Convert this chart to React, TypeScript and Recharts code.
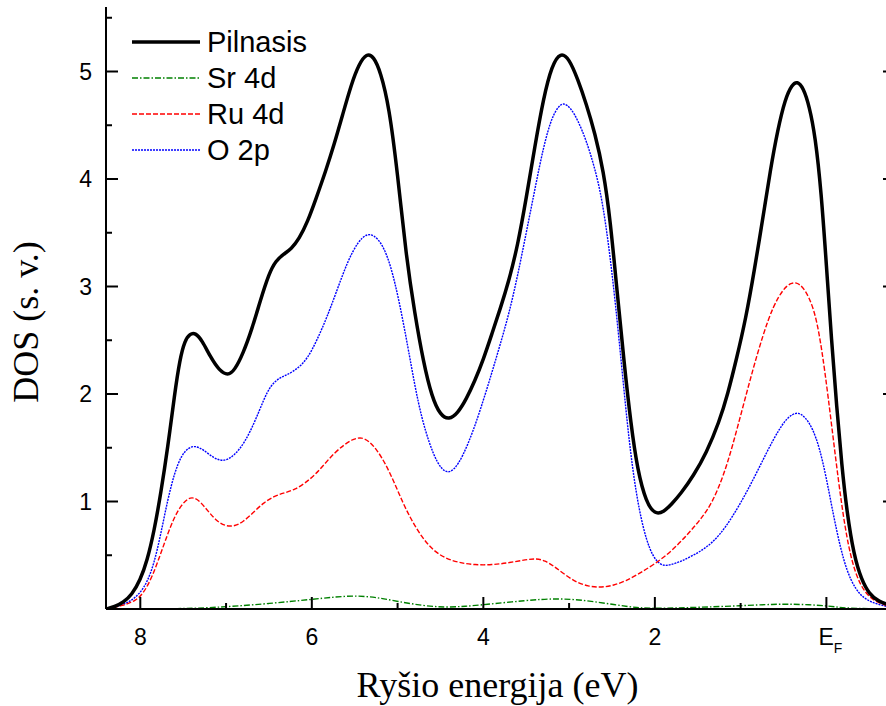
import React from 'react';
import { LineChart, Line, XAxis, YAxis, Legend } from 'recharts';

// Energies (eV, binding energy; 0 = E_F) and DOS values
const totalE = [8.4, 8.3, 8.2, 8.1, 8.0, 7.92, 7.84, 7.76, 7.68, 7.6, 7.54, 7.48, 7.42, 7.36, 7.28, 7.18, 7.08, 6.98, 6.9, 6.8, 6.7, 6.6, 6.5, 6.42, 6.33, 6.24, 6.15, 6.05, 5.95, 5.84, 5.74, 5.64, 5.54, 5.45, 5.36, 5.28, 5.2, 5.1, 5.0, 4.9, 4.8, 4.7, 4.6, 4.5, 4.4, 4.3, 4.2, 4.1, 4.0, 3.9, 3.8, 3.7, 3.6, 3.5, 3.4, 3.3, 3.2, 3.1, 3.0, 2.9, 2.8, 2.7, 2.6, 2.52, 2.44, 2.36, 2.28, 2.2, 2.1, 2.0, 1.9, 1.8, 1.7, 1.55, 1.4, 1.25, 1.15, 1.05, 0.94, 0.84, 0.74, 0.65, 0.57, 0.48, 0.4, 0.34, 0.27, 0.2, 0.13, 0.06, 0.0, -0.06, -0.12, -0.18, -0.24, -0.32, -0.41, -0.5, -0.6, -0.8];
const totalDos = [0.0, 0.02, 0.06, 0.13, 0.27, 0.45, 0.72, 1.08, 1.5, 2.0, 2.32, 2.5, 2.56, 2.57, 2.5, 2.34, 2.22, 2.17, 2.22, 2.38, 2.6, 2.87, 3.12, 3.24, 3.3, 3.35, 3.44, 3.6, 3.82, 4.07, 4.32, 4.6, 4.88, 5.07, 5.17, 5.14, 5.0, 4.68, 4.05, 3.28, 2.75, 2.3, 1.97, 1.8, 1.76, 1.82, 1.95, 2.12, 2.32, 2.56, 2.8, 3.06, 3.38, 3.82, 4.3, 4.75, 5.06, 5.18, 5.12, 4.93, 4.7, 4.43, 4.08, 3.62, 2.95, 2.3, 1.72, 1.28, 0.99, 0.88, 0.9, 0.98, 1.07, 1.24, 1.45, 1.74, 2.0, 2.32, 2.7, 3.15, 3.64, 4.1, 4.45, 4.75, 4.88, 4.91, 4.85, 4.68, 4.4, 3.88, 3.2, 2.5, 1.88, 1.33, 0.9, 0.5, 0.27, 0.14, 0.07, 0.02];

const srE = [8.4, 7.5, 7.0, 6.5, 6.0, 5.75, 5.5, 5.25, 5.0, 4.7, 4.45, 4.2, 4.0, 3.5, 3.14, 2.8, 2.47, 2.2, 2.0, 1.5, 1.0, 0.6, 0.42, 0.2, 0.0, -0.15, -0.3, -0.8];
const srDos = [0.0, 0.0, 0.02, 0.05, 0.09, 0.11, 0.125, 0.11, 0.07, 0.03, 0.015, 0.025, 0.04, 0.08, 0.1, 0.08, 0.04, 0.01, 0.005, 0.015, 0.03, 0.045, 0.045, 0.04, 0.03, 0.015, 0.005, 0.0];

const ruE = [8.4, 8.2, 8.05, 7.96, 7.86, 7.76, 7.68, 7.6, 7.52, 7.44, 7.38, 7.3, 7.2, 7.1, 7.0, 6.9, 6.8, 6.68, 6.56, 6.44, 6.32, 6.2, 6.08, 5.96, 5.85, 5.74, 5.62, 5.52, 5.42, 5.33, 5.24, 5.14, 5.04, 4.94, 4.84, 4.72, 4.58, 4.44, 4.28, 4.1, 3.9, 3.7, 3.5, 3.38, 3.28, 3.18, 3.05, 2.92, 2.78, 2.62, 2.48, 2.34, 2.18, 2.0, 1.8, 1.6, 1.45, 1.33, 1.2, 1.1, 0.98, 0.86, 0.74, 0.62, 0.5, 0.42, 0.35, 0.28, 0.2, 0.12, 0.05, -0.02, -0.1, -0.18, -0.26, -0.35, -0.45, -0.58, -0.8];
const ruDos = [0.0, 0.03, 0.08, 0.15, 0.3, 0.52, 0.7, 0.86, 0.97, 1.03, 1.04, 1.0, 0.9, 0.81, 0.77, 0.77, 0.81, 0.9, 0.99, 1.05, 1.08, 1.11, 1.17, 1.25, 1.35, 1.45, 1.53, 1.58, 1.6, 1.56, 1.48, 1.35, 1.18, 0.99, 0.83, 0.67, 0.54, 0.47, 0.43, 0.41, 0.41, 0.43, 0.46, 0.47, 0.45, 0.4, 0.32, 0.25, 0.21, 0.2, 0.22, 0.26, 0.33, 0.42, 0.54, 0.71, 0.85, 0.99, 1.24, 1.5, 1.86, 2.22, 2.55, 2.82, 2.98, 3.03, 3.04, 3.0, 2.9, 2.72, 2.4, 1.98, 1.45, 0.95, 0.56, 0.3, 0.15, 0.06, 0.01];

const oE = [8.4, 8.2, 8.1, 8.0, 7.92, 7.84, 7.76, 7.68, 7.6, 7.52, 7.44, 7.36, 7.26, 7.14, 7.02, 6.9, 6.78, 6.66, 6.56, 6.48, 6.38, 6.28, 6.16, 6.05, 5.94, 5.82, 5.7, 5.58, 5.46, 5.36, 5.28, 5.18, 5.08, 4.98, 4.88, 4.8, 4.72, 4.63, 4.54, 4.44, 4.34, 4.24, 4.12, 4.0, 3.9, 3.8, 3.7, 3.6, 3.5, 3.4, 3.3, 3.2, 3.12, 3.06, 2.98, 2.9, 2.8, 2.7, 2.62, 2.54, 2.46, 2.38, 2.3, 2.22, 2.14, 2.06, 1.98, 1.9, 1.82, 1.7, 1.55, 1.4, 1.25, 1.1, 0.94, 0.78, 0.62, 0.48, 0.4, 0.33, 0.25, 0.16, 0.08, 0.0, -0.08, -0.16, -0.24, -0.34, -0.45, -0.6, -0.8];
const oDos = [0.0, 0.04, 0.08, 0.15, 0.25, 0.42, 0.7, 1.02, 1.27, 1.43, 1.5, 1.52, 1.48, 1.4, 1.37, 1.43, 1.55, 1.75, 1.95, 2.08, 2.15, 2.18, 2.24, 2.33, 2.5, 2.72, 2.98, 3.24, 3.42, 3.49, 3.48, 3.4, 3.2, 2.86, 2.44, 2.08, 1.78, 1.54, 1.36, 1.26, 1.29, 1.42, 1.65, 1.94, 2.2, 2.47, 2.75, 3.1, 3.5, 3.9, 4.3, 4.58, 4.68, 4.71, 4.66, 4.55, 4.36, 4.1, 3.83, 3.4, 2.85, 2.2, 1.55, 1.08, 0.76, 0.55, 0.44, 0.4, 0.41, 0.44, 0.5, 0.57, 0.68, 0.85, 1.07, 1.32, 1.58, 1.76, 1.81, 1.83, 1.79, 1.68, 1.5, 1.22, 0.88, 0.58, 0.35, 0.18, 0.09, 0.04, 0.01];

const xTicks = [8, 7, 6, 5, 4, 3, 2, 1, 0];
const yTicks = [0.5, 1, 1.5, 2, 2.5, 3, 3.5, 4, 4.5, 5, 5.5];
const xDomain = [-0.8, 8.4];
const yDomain = [0, 5.6];

const toPoints = (xs: number[], ys: number[]) => xs.map((x, i) => ({ x, y: ys[i] }));

const series = [
  { name: 'Pilnasis', data: toPoints(totalE, totalDos), color: '#000000', width: 3.5, dash: undefined as string | undefined },
  { name: 'Sr 4d', data: toPoints(srE, srDos), color: '#008000', width: 1.4, dash: '6 2 1.5 2' },
  { name: 'Ru 4d', data: toPoints(ruE, ruDos), color: '#ff0000', width: 1.4, dash: '5 2' },
  { name: 'O 2p', data: toPoints(oE, oDos), color: '#0000ff', width: 1.4, dash: '2 1' },
];

const SANS = '"Liberation Sans", Arial, sans-serif';
const SERIF = '"Liberation Serif", "Times New Roman", serif';
const MAJOR = 12;
const MINOR = 6;

const BottomTick = (props: any) => {
  const { x, y, payload } = props;
  const v = payload.value;
  const major = v % 2 === 0;
  return (
    <g>
      <line x1={x} x2={x} y1={y} y2={y - (major ? MAJOR : MINOR)} stroke="#000" strokeWidth={2} />
      {major && v !== 0 && (
        <text x={x} y={y + 36} textAnchor="middle" fontFamily={SANS} fontSize={23} fill="#000">
          {v}
        </text>
      )}
      {v === 0 && (
        <text x={x - 8} y={y + 36} textAnchor="start" fontFamily={SANS} fontSize={23} fill="#000">
          E<tspan dy={8} fontSize={14}>F</tspan>
        </text>
      )}
    </g>
  );
};

const TopTick = (props: any) => {
  const { x, y, payload } = props;
  const major = payload.value % 2 === 0;
  return <line x1={x} x2={x} y1={y} y2={y + (major ? MAJOR : MINOR)} stroke="#000" strokeWidth={2} />;
};

const LeftTick = (props: any) => {
  const { x, y, payload } = props;
  const v = payload.value;
  const major = Number.isInteger(v);
  return (
    <g>
      <line x1={x} x2={x + (major ? MAJOR : MINOR)} y1={y} y2={y} stroke="#000" strokeWidth={2} />
      {major && (
        <text x={x - 14} y={y + 8} textAnchor="end" fontFamily={SANS} fontSize={23} fill="#000">
          {v}
        </text>
      )}
    </g>
  );
};

const RightTick = (props: any) => {
  const { x, y, payload } = props;
  const major = Number.isInteger(payload.value);
  return <line x1={x} x2={x - (major ? MAJOR : MINOR)} y1={y} y2={y} stroke="#000" strokeWidth={2} />;
};

const XTitle = (props: any) => {
  const vb = props.viewBox;
  return (
    <text x={vb.x + vb.width / 2 - 3} y={vb.y + 88} textAnchor="middle" fontFamily={SERIF} fontSize={36} fill="#000">
      Ryšio energija (eV)
    </text>
  );
};

const YTitle = (props: any) => {
  const vb = props.viewBox;
  const cy = vb.y + vb.height / 2 + 14;
  return (
    <text transform={`translate(38, ${cy}) rotate(-90)`} textAnchor="middle" fontFamily={SERIF} fontSize={36} fill="#000">
      DOS (s. v.)
    </text>
  );
};

const LegendBox = () => (
  <svg width={220} height={150} style={{ display: 'block' }}>
    {series.map((s, i) => (
      <g key={s.name}>
        <line x1={7} x2={75} y1={20 + i * 36} y2={20 + i * 36} stroke={s.color} strokeWidth={s.width} strokeDasharray={s.dash} />
        <text x={82} y={30 + i * 36} fontFamily={SANS} fontSize={29} fill="#000">
          {s.name}
        </text>
      </g>
    ))}
  </svg>
);

export default function App() {
  return (
    <div style={{ position: 'fixed', left: 0, top: 0, width: 886, height: 706, overflow: 'hidden', background: '#fff' }}>
      <LineChart width={911} height={706} margin={{ top: 7, right: 0, bottom: 0, left: 0 }}>
        <XAxis
          dataKey="x"
          type="number"
          domain={xDomain}
          reversed
          ticks={xTicks}
          interval={0}
          tickSize={0}
          tickMargin={0}
          tickLine={false}
          tick={<BottomTick />}
          axisLine={{ stroke: '#000', strokeWidth: 2 }}
          height={97}
          allowDataOverflow
          label={<XTitle />}
        />
        <XAxis
          xAxisId="top"
          orientation="top"
          dataKey="x"
          type="number"
          domain={xDomain}
          reversed
          ticks={xTicks}
          interval={0}
          tickSize={0}
          tickMargin={0}
          tickLine={false}
          tick={<TopTick />}
          axisLine={{ stroke: '#000', strokeWidth: 2 }}
          height={0}
          allowDataOverflow
        />
        <YAxis
          type="number"
          domain={yDomain}
          ticks={yTicks}
          interval={0}
          tickSize={0}
          tickMargin={0}
          tickLine={false}
          tick={<LeftTick />}
          axisLine={{ stroke: '#000', strokeWidth: 2 }}
          width={106}
          allowDataOverflow
          label={<YTitle />}
        />
        <YAxis
          yAxisId="right"
          orientation="right"
          type="number"
          domain={yDomain}
          ticks={yTicks}
          interval={0}
          tickSize={0}
          tickMargin={0}
          tickLine={false}
          tick={<RightTick />}
          axisLine={{ stroke: '#000', strokeWidth: 2 }}
          width={16}
          allowDataOverflow
        />
        <Legend
          layout="vertical"
          align="center"
          verticalAlign="middle"
          wrapperStyle={{ left: 125, top: 22, width: 220 }}
          content={<LegendBox />}
        />
        {series.slice().reverse().map((s) => (
          <Line
            key={s.name}
            name={s.name}
            data={s.data}
            dataKey="y"
            type="basis"
            stroke={s.color}
            strokeWidth={s.width}
            strokeDasharray={s.dash}
            dot={false}
            activeDot={false}
            isAnimationActive={false}
          />
        ))}
      </LineChart>
    </div>
  );
}
